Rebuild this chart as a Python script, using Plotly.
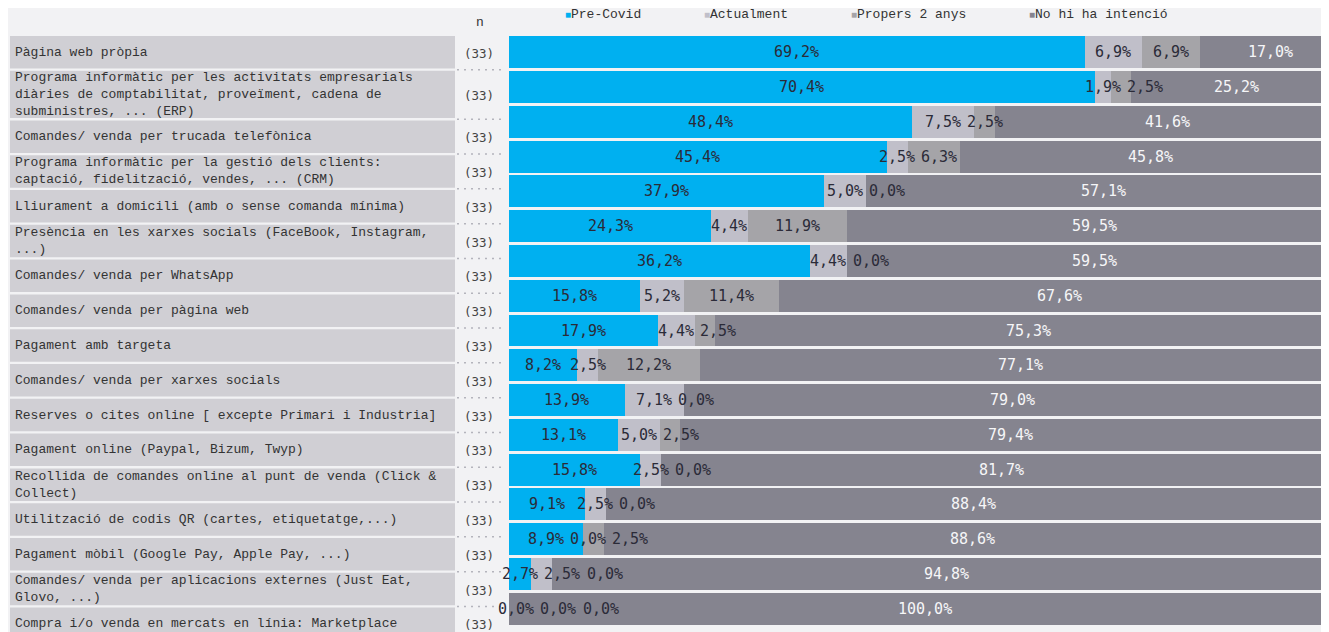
import textwrap
import plotly.graph_objects as go

# ---------------- data ----------------
categories = [
    "Pàgina web pròpia",
    "Programa informàtic per les activitats empresarials diàries de comptabilitat, proveïment, cadena de subministres, ... (ERP)",
    "Comandes/ venda per trucada telefònica",
    "Programa informàtic per la gestió dels clients: captació, fidelització, vendes, ... (CRM)",
    "Lliurament a domicili (amb o sense comanda mínima)",
    "Presència en les xarxes socials (FaceBook, Instagram, ...)",
    "Comandes/ venda per WhatsApp",
    "Comandes/ venda per pàgina web",
    "Pagament amb targeta",
    "Comandes/ venda per xarxes socials",
    "Reserves o cites online [ excepte Primari i Industria]",
    "Pagament online (Paypal, Bizum, Twyp)",
    "Recollida de comandes online al punt de venda (Click & Collect)",
    "Utilització de codis QR (cartes, etiquetatge,...)",
    "Pagament mòbil (Google Pay, Apple Pay, ...)",
    "Comandes/ venda per aplicacions externes (Just Eat, Glovo, ...)",
    "Compra i/o venda en mercats en línia: Marketplace",
]
n_values = [33, 33, 33, 33, 33, 33, 33, 33, 33, 33, 33, 33, 33, 33, 33, 33, 33]
pre_covid = [69.2, 70.4, 48.4, 45.4, 37.9, 24.3, 36.2, 15.8, 17.9, 8.2, 13.9, 13.1, 15.8, 9.1, 8.9, 2.7, 0.0]
actualment = [6.9, 1.9, 7.5, 2.5, 5.0, 4.4, 4.4, 5.2, 4.4, 2.5, 7.1, 5.0, 2.5, 2.5, 0.0, 2.5, 0.0]
propers_2_anys = [6.9, 2.5, 2.5, 6.3, 0.0, 11.9, 0.0, 11.4, 2.5, 12.2, 0.0, 2.5, 0.0, 0.0, 2.5, 0.0, 0.0]
no_intencio = [17.0, 25.2, 41.6, 45.8, 57.1, 59.5, 59.5, 67.6, 75.3, 77.1, 79.0, 79.4, 81.7, 88.4, 88.6, 94.8, 100.0]
series_names = ["Pre-Covid", "Actualment", "Propers 2 anys", "No hi ha intenció"]
n_header = "n"

# ---------------- style ----------------
colors = ["#00b0f0", "#c0bfc9", "#a5a4a8", "#85848f"]
text_colors = ["#2b2b38", "#2b2b38", "#2b2b38", "#f6f6f8"]
BG = "#f2f2f4"
BOX = "#d0cfd4"

OFF = 8                      # the page body margin
W, H = 1329 - OFF, 632 - OFF
ML, MT, MB = 509 - OFF, 35 - OFF, 6
PLOT_W = W - ML
PLOT_H = H - MT - MB
N = len(categories)
PX_PER_PCT = 8.32            # the chart is wider than the window, clipped on the right
XMAX = PLOT_W / PX_PER_PCT


def fmt(v):
    return f"{v:.1f}".replace(".", ",") + "%"


def px_x(page_px):
    return (page_px - OFF - ML) / PLOT_W


def px_y(page_py):
    return 1 - (page_py - OFF - MT) / PLOT_H


series = [pre_covid, actualment, propers_2_anys, no_intencio]

fig = go.Figure()
ys = list(range(N))
for name, vals, col in zip(series_names, series, colors):
    fig.add_trace(go.Bar(
        y=ys, x=vals, orientation="h", name=name,
        marker=dict(color=col, line=dict(width=0)),
        width=0.92, showlegend=False,
        customdata=categories,
        hovertemplate="%{customdata}<br>" + name + ": %{x:.1f}%<extra></extra>",
    ))

annotations = []
shapes = []

# ---------------- value labels (left-to-right collision avoidance) ----------------
CHAR_W = 9.05
GAP = 6
LEFT_LIMIT = -11.0
for i in range(N):
    vals = [s[i] for s in series]
    labs = []
    cum = 0.0
    for j, v in enumerate(vals):
        txt = fmt(v)
        centre_pct = cum + v / 2
        labs.append(dict(j=j, txt=txt, centre_pct=centre_pct,
                         nat=centre_pct * PX_PER_PCT, w=len(txt) * CHAR_W))
        cum += v
    placed = []
    for j in range(len(vals)):
        lab = labs[j]
        w = lab["w"]
        nat = lab["nat"]

        def ok(c, w=w):
            l, r = c - w / 2, c + w / 2
            if l < LEFT_LIMIT - 1e-6:
                return False
            for p in placed:
                if not (l >= p[1] + GAP - 1e-6 or r <= p[0] - GAP + 1e-6):
                    return False
            return True

        cands = [max(nat, LEFT_LIMIT + w / 2)]
        for p in placed:
            cands += [p[0] - GAP - w / 2, p[1] + GAP + w / 2]
        valid = [c for c in cands if ok(c)]
        best = min(valid, key=lambda c: abs(c - nat)) if valid else nat
        placed.append((best - w / 2, best + w / 2))
        annotations.append(dict(
            x=lab["centre_pct"], y=i, xref="x", yref="y",
            xshift=best - nat, text=lab["txt"], showarrow=False,
            xanchor="center", yanchor="middle",
            font=dict(family="DejaVu Sans Mono", size=15, color=text_colors[j]),
        ))

# ---------------- left label column ----------------
BOX_LEFT, BOX_RIGHT = 10, 455
GAP_BOX = 2.3
top = 36.0
for i, (cat, n) in enumerate(zip(categories, n_values)):
    lines = textwrap.wrap(cat, 55)
    h = max(32.5, 15 * len(lines) + 2.3)
    if i > 0:
        ydot = top - GAP_BOX / 2
        shapes.append(dict(type="line", xref="paper", yref="paper",
                           x0=px_x(457), x1=px_x(502), y0=px_y(ydot), y1=px_y(ydot),
                           line=dict(color="#b4b4bc", width=1.5, dash="2px,5px")))
    shapes.append(dict(type="rect", xref="paper", yref="paper",
                       x0=px_x(BOX_LEFT), x1=px_x(BOX_RIGHT),
                       y0=px_y(top + h), y1=px_y(top),
                       fillcolor=BOX, line=dict(width=0), layer="below"))
    cy = top + h / 2
    annotations.append(dict(
        x=px_x(13), y=px_y(cy), xref="paper", yref="paper",
        text="<br>".join(lines), showarrow=False, align="left",
        xanchor="left", yanchor="middle",
        font=dict(family="Liberation Mono", size=13, color="#333333"),
    ))
    annotations.append(dict(
        x=px_x(479), y=px_y(cy + 1), xref="paper", yref="paper",
        text=f"({n})", showarrow=False, xanchor="center", yanchor="middle",
        font=dict(family="DejaVu Sans Mono", size=12.5, color="#444444"),
    ))
    top += h + GAP_BOX

annotations.append(dict(
    x=px_x(480), y=px_y(23), xref="paper", yref="paper", text=n_header,
    showarrow=False, xanchor="center", yanchor="middle",
    font=dict(family="Liberation Mono", size=13, color="#333333"),
))

# ---------------- legend (as text) ----------------
lx = 563.0
for name, col in zip(series_names, colors):
    annotations.append(dict(
        x=px_x(lx), y=px_y(15), xref="paper", yref="paper",
        text=f'<span style="color:{col};font-size:10px">■</span>{name}',
        showarrow=False, xanchor="left", yanchor="middle",
        font=dict(family="Liberation Mono", size=13, color="#333333"),
    ))
    lx += (len(name) + 1) * 7.9 + 60

fig.update_layout(
    barmode="stack",
    width=W, height=H,
    margin=dict(l=ML, r=0, t=MT, b=MB, pad=0),
    paper_bgcolor=BG, plot_bgcolor=BG,
    xaxis=dict(range=[0, XMAX], visible=False, fixedrange=True),
    yaxis=dict(range=[N - 0.5, -0.5], visible=False, fixedrange=True),
    annotations=annotations,
    shapes=shapes,
    showlegend=False,
    font=dict(family="Liberation Mono"),
)

fig.write_html("out.html")
